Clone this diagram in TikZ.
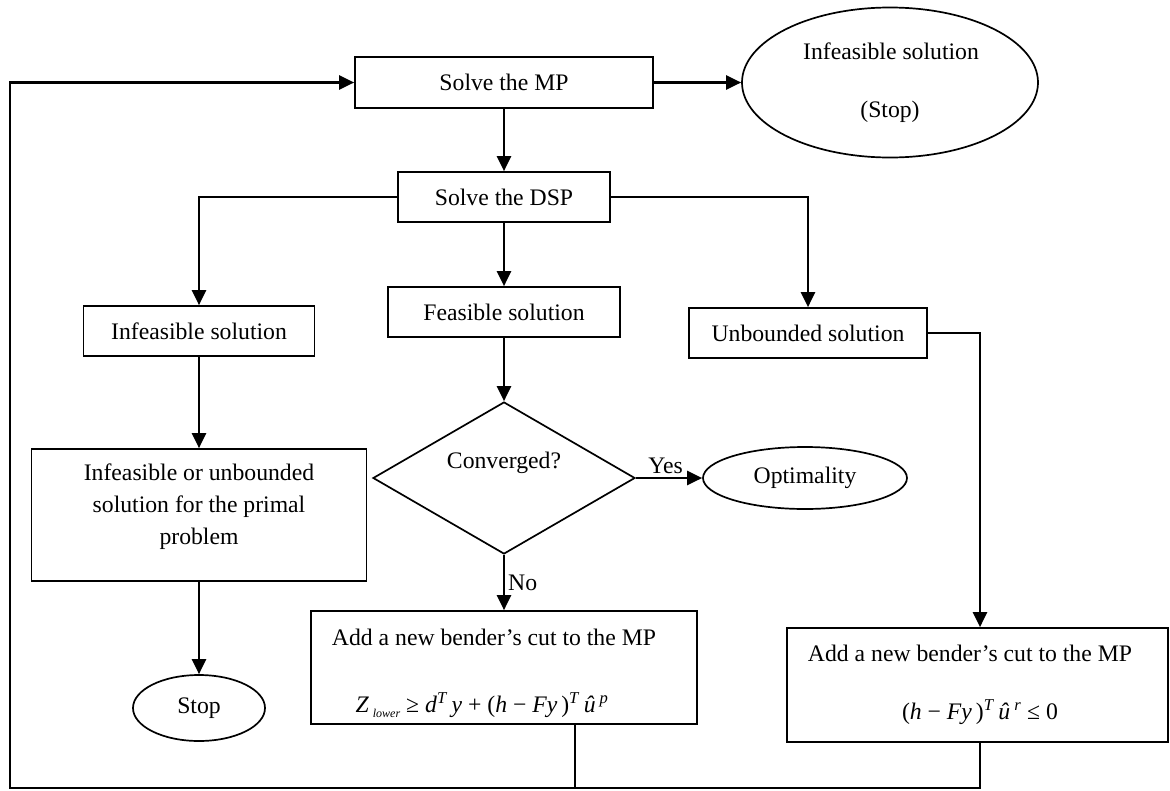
\documentclass[tikz,border=0pt]{standalone}
\usepackage{fontspec}
\setmainfont{Liberation Serif}
\usetikzlibrary{arrows.meta,shapes.geometric}
\newcommand\fsz{\fontsize{23.7pt}{32pt}\selectfont}
\newcommand\supit[1]{\textsuperscript{\textit{#1}}}
\begin{document}
\begin{tikzpicture}[x=1pt,y=-1pt,
  font=\fsz,
  box/.style={draw, line width=1.7pt, rectangle, inner sep=0pt},
  oval/.style={draw, line width=1.7pt, ellipse, inner sep=0pt},
  txt/.style={inner sep=0pt, align=center},
  conn/.style={line width=2pt},
  arr/.style={line width=2.4pt, -{Triangle[length=15pt,width=14pt]}},
  lbl/.style={inner sep=3pt}]
\useasboundingbox (0,0) rectangle (1170,790);

% nodes
\node[box, minimum width=298pt, minimum height=51pt] (mp) at (504,82.5) {Solve the MP};
\node[oval, minimum width=296pt, minimum height=150pt] (inf) at (890,82.5) {};
\node[txt] (inft1) at (891,51) {Infeasible solution};
\node[txt] (inft2) at (890,112) {(Stop)};
\node[box, minimum width=212pt, minimum height=50pt] (dsp) at (504,197) {Solve the DSP};
\node[box, minimum width=231pt, minimum height=50pt] (ifs) at (199,331) {Infeasible solution};
\node[box, minimum width=232pt, minimum height=50pt] (fea) at (504,312) {Feasible solution};
\node[box, minimum width=238pt, minimum height=50pt] (unb) at (808,333) {Unbounded solution};
\node[box, minimum width=335pt, minimum height=132pt] (iub) at (199,515) {};
\node[txt] (iubt) at (199,507) {Infeasible or unbounded\\solution for the primal\\problem};
\node[draw, line width=1.7pt, diamond, inner sep=0pt, minimum width=262pt, minimum height=152pt] (conv) at (504,478) {};
\node[txt] (convt) at (504,463) {Converged?};
\node[oval, minimum width=204pt, minimum height=62pt] (opt) at (805,478) {Optimality};
\node[oval, minimum width=132pt, minimum height=66pt] (stop) at (199,708) {Stop};
\node[box, minimum width=386pt, minimum height=113pt] (cut1) at (504,667.5) {};
\node[txt] (cut1a) at (494,637) {Add a new bender’s cut to the MP};
\node[txt] (cut1b) at (482,705) {\textit{Z}\,\raisebox{-0.5ex}{\fontsize{12pt}{12pt}\selectfont\textit{lower}} ≥ \textit{d}\supit{T}\,\textit{y} + (\textit{h} − \textit{Fy}\,)\supit{T}\,\textit{û}\,\supit{p}};
\node[box, minimum width=381pt, minimum height=114pt] (cut2) at (977.5,685) {};
\node[txt] (cut2a) at (970,653) {Add a new bender’s cut to the MP};
\node[txt] (cut2b) at (980,712) {(\textit{h} − \textit{Fy}\,)\supit{T}\,\textit{û}\,\supit{r} ≤ 0};

% junction coordinates
\coordinate (j0) at (10,788);
\coordinate (j1) at (575,788);
\coordinate (j2) at (980,788);

% connectors
\draw[arr] (mp.east) -- (inf.west);
\draw[arr] (mp.south) -- (dsp.north);
\draw[arr] (dsp.west) -| (ifs.north);
\draw[arr] (dsp.south) -- (fea.north);
\draw[arr] (dsp.east) -| (unb.north);
\draw[arr] (ifs.south) -- (iub.north);
\draw[arr] (iub.south) -- (stop.north);
\draw[arr] (fea.south) -- (conv.north);
\draw[arr] (conv.east) -- node[lbl, above, pos=0.45] {Yes} (opt.west);
\draw[arr] (conv.south) -- node[lbl, right, pos=0.5] {No} (cut1.north);
\draw[arr] (unb.east) -| (cut2.north -| j2);
\draw[conn] (cut1.south -| j1) -- (j1);
\draw[arr] (cut2.south -| j2) -- (j2) -- (j0) |- (mp.west);
\end{tikzpicture}
\end{document}
